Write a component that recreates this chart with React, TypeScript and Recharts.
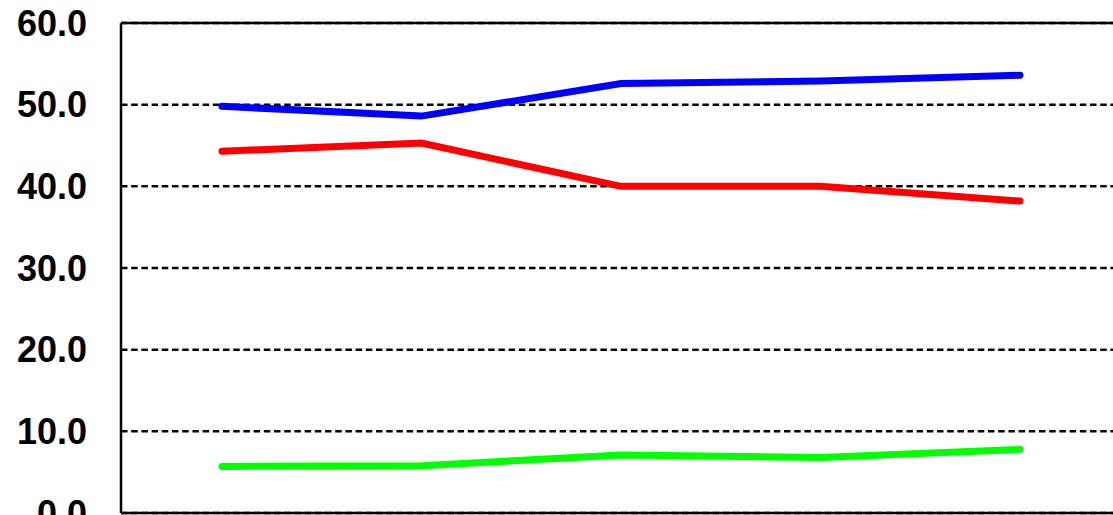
import { LineChart, Line, XAxis, YAxis, CartesianGrid, ReferenceLine } from 'recharts';

const categories = ['1', '2', '3', '4', '5'];
const blueSeries = [49.8, 48.6, 52.6, 52.9, 53.6];
const redSeries = [44.3, 45.3, 40.0, 40.0, 38.2];
const greenSeries = [5.7, 5.8, 7.1, 6.8, 7.8];
const yTicks = [0, 10, 20, 30, 40, 50, 60];

const data = categories.map((name, i) => ({
  name,
  blue: blueSeries[i],
  red: redSeries[i],
  green: greenSeries[i],
}));

const FONT = '"Liberation Sans", Arial, Helvetica, sans-serif';

export default function App() {
  return (
    <div style={{ position: 'fixed', left: 0, top: 0, width: 1113, height: 515, overflow: 'hidden', background: '#fff' }}>
      <LineChart width={1119} height={530} data={data} margin={{ top: 23, right: 0, bottom: 16, left: 0 }}>
        <CartesianGrid vertical={false} stroke="#000" strokeWidth={2.5} strokeDasharray="6.5 3.7" />
        <XAxis
          dataKey="name"
          height={1}
          tick={false}
          tickLine={false}
          axisLine={{ stroke: '#000', strokeWidth: 2.5 }}
          padding={{ left: 101, right: 99 }}
        />
        <YAxis
          width={121}
          domain={[0, 60]}
          ticks={yTicks}
          interval={0}
          tickLine={false}
          tickSize={0}
          tickMargin={34}
          axisLine={{ stroke: '#000', strokeWidth: 2.5 }}
          tickFormatter={(v: number) => v.toFixed(1)}
          tick={{ fill: '#000', fontSize: 36, fontWeight: 'bold', fontFamily: FONT }}
        />
        <ReferenceLine y={60} stroke="#000" strokeWidth={2.5} />
        <Line dataKey="blue" stroke="#0000ff" strokeWidth={7} strokeLinecap="round" dot={false} isAnimationActive={false} />
        <Line dataKey="red" stroke="#ff0000" strokeWidth={7} strokeLinecap="round" dot={false} isAnimationActive={false} />
        <Line dataKey="green" stroke="#00ff00" strokeWidth={7} strokeLinecap="round" dot={false} isAnimationActive={false} />
      </LineChart>
    </div>
  );
}
